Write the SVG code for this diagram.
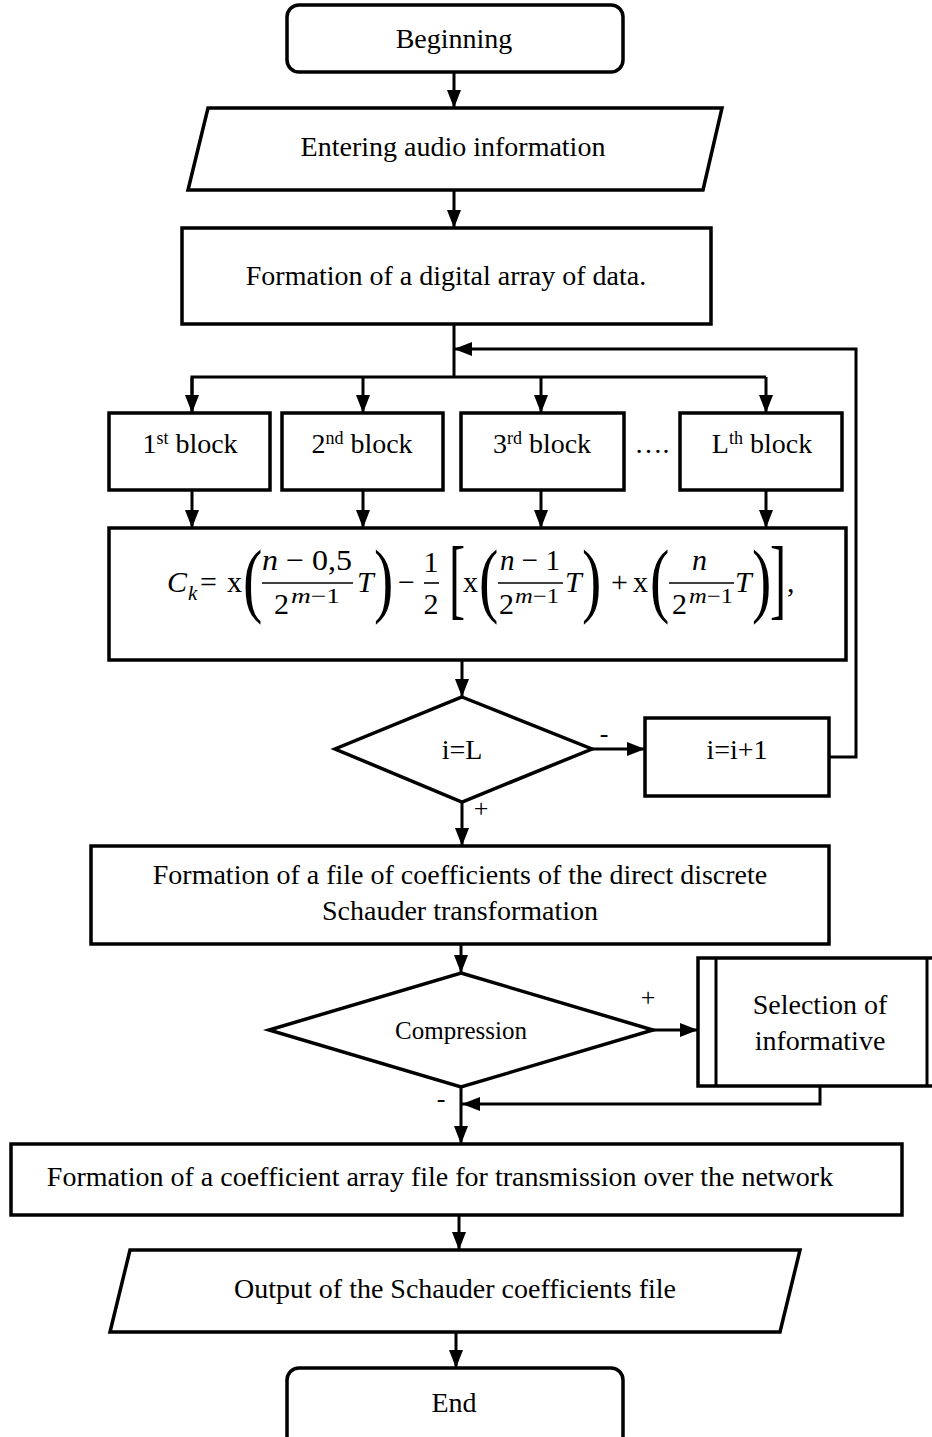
<svg xmlns="http://www.w3.org/2000/svg" width="932" height="1437" viewBox="0 0 932 1437">
<style>
.b{fill:#fff;stroke:#000;stroke-width:3.5}
.c{fill:none;stroke:#000;stroke-width:3}
.t{font-family:"Liberation Serif","Times New Roman",serif;font-size:28px;fill:#000;text-anchor:middle}
.m{font-family:"Liberation Serif","Times New Roman",serif;font-size:30px;fill:#000}
.i{font-style:italic}
.s{font-size:21px}
.bar{stroke:#000;stroke-width:1.6}
.lbl{font-size:26px}
</style>
<defs>
<marker id="ah" markerUnits="userSpaceOnUse" markerWidth="18" markerHeight="14" refX="18" refY="7" orient="auto">
<path d="M0,0 L18,7 L0,14 z" fill="#000"/>
</marker>
</defs>
<rect width="932" height="1437" fill="#fff"/>

<g id="connectors">
<line class="c" x1="454" y1="72" x2="454" y2="108" marker-end="url(#ah)"/>
<line class="c" x1="454" y1="190" x2="454" y2="228" marker-end="url(#ah)"/>
<polyline class="c" points="454,324 454,377"/>
<polyline class="c" points="192,413 192,377 766,377"/>
<line class="c" x1="192" y1="377" x2="192" y2="413" marker-end="url(#ah)"/>
<line class="c" x1="363" y1="377" x2="363" y2="413" marker-end="url(#ah)"/>
<line class="c" x1="541" y1="377" x2="541" y2="413" marker-end="url(#ah)"/>
<line class="c" x1="766" y1="377" x2="766" y2="413" marker-end="url(#ah)"/>
<line class="c" x1="192" y1="490" x2="192" y2="528" marker-end="url(#ah)"/>
<line class="c" x1="363" y1="490" x2="363" y2="528" marker-end="url(#ah)"/>
<line class="c" x1="541" y1="490" x2="541" y2="528" marker-end="url(#ah)"/>
<line class="c" x1="766" y1="490" x2="766" y2="528" marker-end="url(#ah)"/>
<line class="c" x1="462" y1="660" x2="462" y2="697" marker-end="url(#ah)"/>
<line class="c" x1="592" y1="749" x2="645" y2="749" marker-end="url(#ah)"/>
<polyline class="c" points="829,757 856,757 856,349 454,349" marker-end="url(#ah)"/>
<line class="c" x1="462" y1="802" x2="462" y2="846" marker-end="url(#ah)"/>
<line class="c" x1="461" y1="944" x2="461" y2="973" marker-end="url(#ah)"/>
<line class="c" x1="653" y1="1030" x2="698" y2="1030" marker-end="url(#ah)"/>
<polyline class="c" points="820,1086 820,1104 462,1104" marker-end="url(#ah)"/>
<line class="c" x1="461" y1="1087" x2="461" y2="1144" marker-end="url(#ah)"/>
<line class="c" x1="459" y1="1215" x2="459" y2="1250" marker-end="url(#ah)"/>
<line class="c" x1="456" y1="1332" x2="456" y2="1368" marker-end="url(#ah)"/>
<text class="t lbl" x="604" y="742">-</text>
<text class="t lbl" x="481" y="817">+</text>
<text class="t lbl" x="648" y="1006">+</text>
<text class="t lbl" x="441" y="1107">-</text>
</g>

<g id="start">
<rect class="b" x="287" y="5" width="336" height="67" rx="12"/>
<text class="t" x="454" y="48">Beginning</text>
</g>

<g id="input">
<polygon class="b" points="208,108 722,108 703,190 188,190"/>
<text class="t" x="453" y="156">Entering audio information</text>
</g>

<g id="array">
<rect class="b" x="182" y="228" width="529" height="96"/>
<text class="t" x="446" y="285">Formation of a digital array of data.</text>
</g>

<g id="block1">
<rect class="b" x="109" y="413" width="161" height="77"/>
<text class="t" x="190" y="453">1<tspan dy="-9" style="font-size:18px">st</tspan><tspan dy="9"> block</tspan></text>
</g>
<g id="block2">
<rect class="b" x="282" y="413" width="161" height="77"/>
<text class="t" x="362" y="453">2<tspan dy="-9" style="font-size:18px">nd</tspan><tspan dy="9"> block</tspan></text>
</g>
<g id="block3">
<rect class="b" x="461" y="413" width="163" height="77"/>
<text class="t" x="542" y="453">3<tspan dy="-9" style="font-size:18px">rd</tspan><tspan dy="9"> block</tspan></text>
</g>
<g id="dots">
<text class="t" x="652" y="453">….</text>
</g>
<g id="blockL">
<rect class="b" x="680" y="413" width="162" height="77"/>
<text class="t" x="762" y="453">L<tspan dy="-9" style="font-size:18px">th</tspan><tspan dy="9"> block</tspan></text>
</g>

<g id="formula">
<rect class="b" x="109" y="528" width="737" height="132"/>
<text class="m i" x="167" y="592">C</text>
<text class="m i s" x="188" y="600">k</text>
<text class="m" x="200" y="592">=</text>
<text class="m" x="227" y="592">x</text>
<text class="m" transform="translate(243,607) scale(0.7,1)" style="font-size:83px">(</text>
<text class="m" x="262" y="570" textLength="90" lengthAdjust="spacingAndGlyphs"><tspan class="i">n</tspan> − 0,5</text>
<line class="bar" x1="262" y1="583" x2="353" y2="583"/>
<text class="m" x="274" y="614">2</text>
<text class="m s" x="291" y="603" textLength="49" lengthAdjust="spacingAndGlyphs"><tspan class="i">m</tspan>−1</text>
<text class="m i" x="357" y="592">T</text>
<text class="m" transform="translate(374,607) scale(0.7,1)" style="font-size:83px">)</text>
<text class="m" x="398" y="592">−</text>
<text class="m" x="431" y="572" text-anchor="middle">1</text>
<line class="bar" x1="424" y1="583" x2="439" y2="583"/>
<text class="m" x="431" y="614" text-anchor="middle">2</text>
<text class="m" transform="translate(449,608) scale(0.55,1)" style="font-size:88px">[</text>
<text class="m" x="463" y="592">x</text>
<text class="m" transform="translate(479,607) scale(0.7,1)" style="font-size:83px">(</text>
<text class="m" x="500" y="570" textLength="60" lengthAdjust="spacingAndGlyphs"><tspan class="i">n</tspan> − 1</text>
<line class="bar" x1="498" y1="583" x2="563" y2="583"/>
<text class="m" x="499" y="614">2</text>
<text class="m s" x="515" y="603" textLength="44" lengthAdjust="spacingAndGlyphs"><tspan class="i">m</tspan>−1</text>
<text class="m i" x="565" y="592">T</text>
<text class="m" transform="translate(582,607) scale(0.7,1)" style="font-size:83px">)</text>
<text class="m" x="611" y="592">+</text>
<text class="m" x="633" y="592">x</text>
<text class="m" transform="translate(650,607) scale(0.7,1)" style="font-size:83px">(</text>
<text class="m i" x="692" y="570">n</text>
<line class="bar" x1="669" y1="583" x2="734" y2="583"/>
<text class="m" x="672" y="614">2</text>
<text class="m s" x="689" y="603" textLength="44" lengthAdjust="spacingAndGlyphs"><tspan class="i">m</tspan>−1</text>
<text class="m i" x="735" y="592">T</text>
<text class="m" transform="translate(752,607) scale(0.7,1)" style="font-size:83px">)</text>
<text class="m" transform="translate(770,608) scale(0.55,1)" style="font-size:88px">]</text>
<text class="m" x="787" y="592">,</text>
</g>

<g id="check-i">
<polygon class="b" points="462,697 592,749 462,802 335,749"/>
<text class="t" x="462" y="759">i=L</text>
</g>

<g id="increment">
<rect class="b" x="645" y="718" width="184" height="78"/>
<text class="t" x="737" y="759">i=i+1</text>
</g>

<g id="coeff-file">
<rect class="b" x="91" y="846" width="738" height="98"/>
<text class="t" x="460" y="884">Formation of a file of coefficients of the direct discrete</text>
<text class="t" x="460" y="920">Schauder transformation</text>
</g>

<g id="compression">
<polygon class="b" points="461,973 653,1030 461,1087 269,1030"/>
<text class="t" x="461" y="1039" style="font-size:25px">Compression</text>
</g>

<g id="selection">
<rect class="b" x="698" y="958" width="250" height="128"/>
<line class="c" x1="716" y1="958" x2="716" y2="1086"/>
<line class="c" x1="927" y1="958" x2="927" y2="1086"/>
<text class="t" x="820" y="1014">Selection of</text>
<text class="t" x="820" y="1050">informative</text>
</g>

<g id="array-file">
<rect class="b" x="11" y="1144" width="891" height="71"/>
<text class="t" x="440" y="1186">Formation of a coefficient array file for transmission over the network</text>
</g>

<g id="output">
<polygon class="b" points="130,1250 800,1250 780,1332 110,1332"/>
<text class="t" x="455" y="1298">Output of the Schauder coefficients file</text>
</g>

<g id="end">
<rect class="b" x="287" y="1368" width="336" height="80" rx="12"/>
<text class="t" x="454" y="1412">End</text>
</g>
</svg>
